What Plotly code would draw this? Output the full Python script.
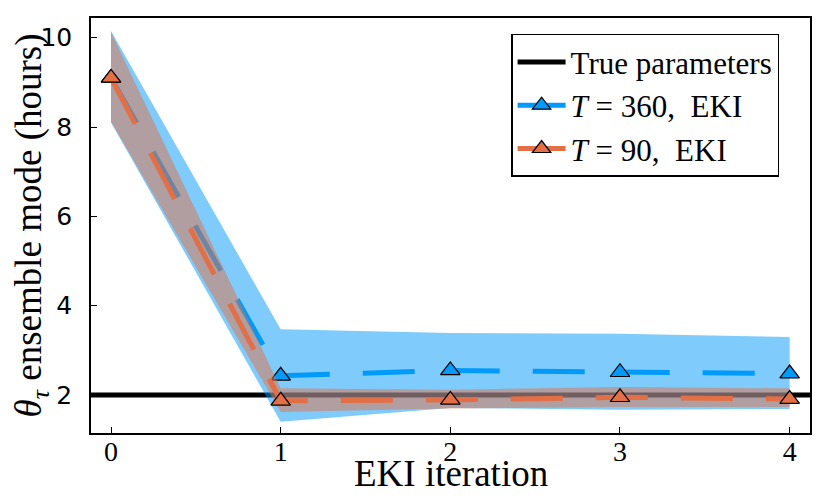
import plotly.graph_objects as go

# EKI iterations and ensemble statistics (hours)
ITERATIONS = [0, 1, 2, 3, 4]
TRUE_TAU = 2.0

T360_MODE = [9.10, 2.43, 2.55, 2.51, 2.48]
T360_UPPER = [10.15, 3.47, 3.39, 3.37, 3.30]
T360_LOWER = [8.10, 1.40, 1.71, 1.67, 1.69]

T90_MODE = [9.10, 1.87, 1.89, 1.95, 1.91]
T90_UPPER = [10.12, 2.15, 2.12, 2.18, 2.15]
T90_LOWER = [8.12, 1.62, 1.70, 1.73, 1.73]

Y_TICKS = [2, 4, 6, 8, 10]
X_TICKS = [0, 1, 2, 3, 4]

BLUE = "#009AFA"
ORANGE = "#E26F46"
SERIF = "Liberation Serif"
SANS = "DejaVu Sans"


def band(xs, lower, upper, rgba):
    return go.Scatter(x=xs + xs[::-1], y=upper + lower[::-1], fill="toself",
                      fillcolor=rgba, line=dict(width=0), mode="lines",
                      hoverinfo="skip", showlegend=False)


def mode_line(xs, ys, color, name, rank):
    return go.Scatter(x=xs, y=ys, mode="lines+markers", name=name, legendrank=rank,
                      line=dict(color=color, width=5, dash="52px,33px"),
                      marker=dict(symbol="triangle-up", size=17, color=color,
                                  line=dict(color="black", width=1.2)))


fig = go.Figure()
fig.add_hline(y=TRUE_TAU, line=dict(color="black", width=5), layer="below",
              showlegend=True, name="True parameters", legendrank=1)
fig.add_trace(band(ITERATIONS, T360_LOWER, T360_UPPER, "rgba(0,154,250,0.5)"))
fig.add_trace(mode_line(ITERATIONS, T360_MODE, BLUE, "<i>T</i> = 360,  EKI", 2))
fig.add_trace(band(ITERATIONS, T90_LOWER, T90_UPPER, "rgba(226,111,70,0.5)"))
fig.add_trace(mode_line(ITERATIONS, T90_MODE, ORANGE, "<i>T</i> = 90,  EKI", 3))

axis_common = dict(showline=True, mirror=True, linecolor="black", linewidth=1.5,
                   ticks="inside", ticklen=6, tickcolor="black", tickwidth=1,
                   showgrid=False, zeroline=False, automargin=False)

fig.update_xaxes(range=[-0.118, 4.12], tickvals=X_TICKS, ticklabelstandoff=-7,
                 tickfont=dict(family=SERIF, size=28, color="black"), **axis_common)
fig.update_yaxes(range=[1.15, 10.44], tickvals=Y_TICKS, ticklabelstandoff=12,
                 tickfont=dict(family=SANS, size=25, color="black"),
                 title=dict(text="<i>θ</i><sub><i>τ</i></sub> ensemble mode (hours)",
                            font=dict(family=SERIF, size=37, color="black"), standoff=3),
                 **axis_common)

fig.add_annotation(text="EKI iteration", xref="paper", yref="paper", x=0.5, y=0,
                   yanchor="middle", yshift=-40, showarrow=False,
                   font=dict(family=SERIF, size=37, color="black"))

# the page body adds an 8px offset, so the figure is sized to fill the rest of the window
fig.update_layout(
    width=822, height=490,
    margin=dict(l=83, r=20, t=10, b=65),
    plot_bgcolor="white", paper_bgcolor="white",
    legend=dict(x=0.957, xanchor="right", y=0.962, yanchor="top",
                bgcolor="white", bordercolor="black", borderwidth=1.5, itemwidth=48,
                font=dict(family=SERIF, size=31, color="black")),
)

fig.write_html("out.html")
